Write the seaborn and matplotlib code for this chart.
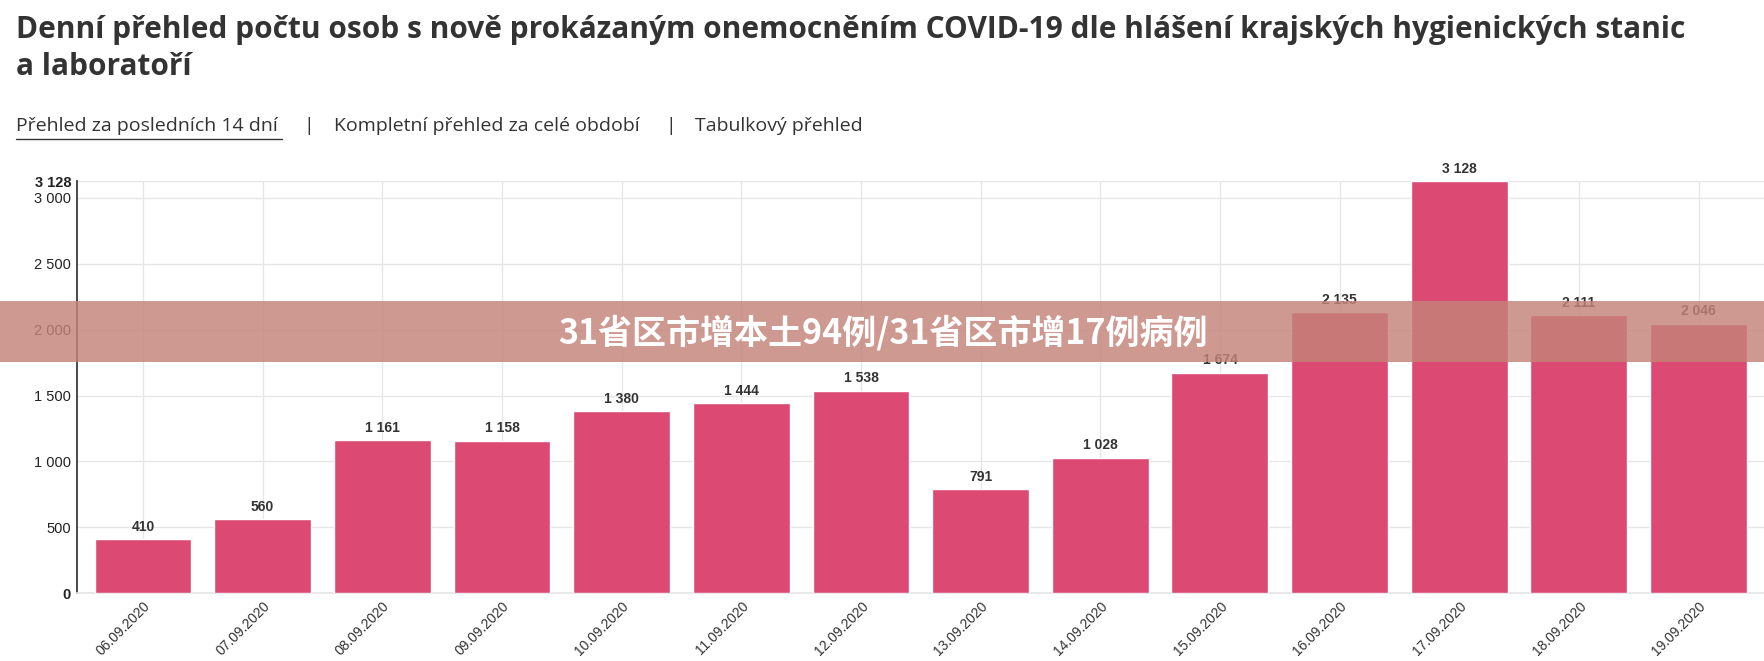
import matplotlib
matplotlib.use("Agg")
import matplotlib.pyplot as plt
import seaborn as sns
import pandas as pd
from matplotlib.patches import Rectangle

dates = ["06.09.2020","07.09.2020","08.09.2020","09.09.2020","10.09.2020","11.09.2020","12.09.2020",
         "13.09.2020","14.09.2020","15.09.2020","16.09.2020","17.09.2020","18.09.2020","19.09.2020"]
values = [410,560,1161,1158,1380,1444,1538,791,1028,1674,2135,3128,2111,2046]
yticks = [0,500,1000,1500,2000,2500,3000]

def fmt(v):
    return f"{v:,}".replace(",", " ")

sns.set_theme(style="white")
plt.rcParams['font.family'] = ['Open Sans', 'Noto Sans CJK SC', 'DejaVu Sans']

fig = plt.figure(figsize=(17.65, 6.61), dpi=100)
ax = fig.add_axes([0.0434, 0.1027, 0.9566, 0.6233])
df = pd.DataFrame({"d": dates, "v": values})
sns.barplot(data=df, x="d", y="v", color="#dc4a74", saturation=1, width=0.81, ax=ax, zorder=3)
ax.set_xlim(-0.555, 13.555)
ax.set_ylim(0, 3128)
ax.set_yticks(yticks + [3128])
ax.set_yticklabels([fmt(t) for t in yticks] + ["3 128"], family="Liberation Sans", fontsize=10.5, color="#222")
for lab, t in zip(ax.get_yticklabels(), yticks + [3128]):
    if t in (0, 3128):
        lab.set_fontweight("bold")
ax.set_xticks(range(len(dates)))
ax.set_xticklabels(dates, rotation=45, ha="right", rotation_mode="anchor", family="Liberation Sans", fontsize=10, color="#333")
ax.set_xlabel(""); ax.set_ylabel("")
ax.grid(True, color="#e6e6e6", lw=1, zorder=0)
for s in ["top", "right"]:
    ax.spines[s].set_visible(False)
ax.spines["bottom"].set_color("#e6e6e6")
ax.spines["left"].set_color("#333")
ax.tick_params(axis="both", length=0, pad=4)
for i, v in enumerate(values):
    ax.text(i, v + 40, fmt(v), ha="center", va="bottom", fontsize=10, fontweight="bold", color="#333", family="Liberation Sans")

fig.text(0.009, 0.955, "Denní přehled počtu osob s nově prokázaným onemocněním COVID-19 dle hlášení krajských hygienických stanic",
         fontsize=21.5, fontweight="bold", color="#333", va="center")
fig.text(0.009, 0.898, "a laboratoří", fontsize=21.5, fontweight="bold", color="#333", va="center")
fig.text(0.009, 0.81, "Přehled za posledních 14 dní", fontsize=14, color="#333", va="center")
fig.text(0.172, 0.81, "|", fontsize=14, color="#333", va="center")
fig.text(0.189, 0.81, "Kompletní přehled za celé období", fontsize=14, color="#333", va="center")
fig.text(0.377, 0.81, "|", fontsize=14, color="#333", va="center")
fig.text(0.394, 0.81, "Tabulkový přehled", fontsize=14, color="#333", va="center")
fig.add_artist(plt.Line2D([0.009, 0.160], [0.79, 0.79], color="#333", lw=1, transform=fig.transFigure))

fig.add_artist(Rectangle((0, 1 - 320/584), 1, 54/584, transform=fig.transFigure, color="#c48378", alpha=0.82, zorder=10, lw=0))
fig.text(0.5, 1 - 294/584, "31省区市增本土94例/31省区市增17例病例", fontsize=24.5, fontweight="bold", color="white",
         ha="center", va="center", zorder=11, family=["Noto Sans CJK SC", "DejaVu Sans"])

fig.savefig("out.png", dpi=100)
